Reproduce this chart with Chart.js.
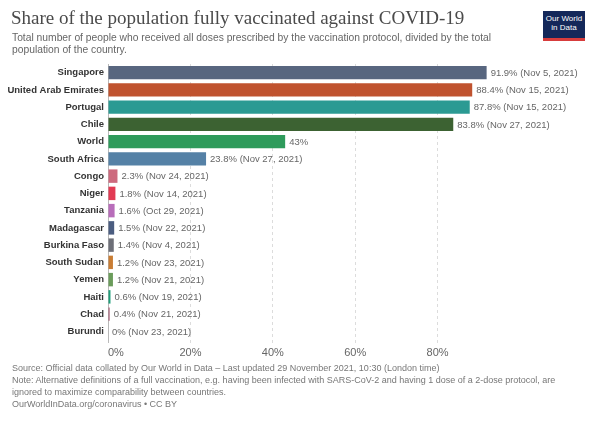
<!DOCTYPE html>
<html>
<head>
<meta charset="utf-8">
<script src="https://cdn.jsdelivr.net/npm/chart.js@4"></script>
<style>
  html, body { margin: 0; padding: 0; background: #fff; }
  #wrap { position: relative; width: 600px; height: 421px; overflow: hidden; }
  canvas { position: absolute; left: 0; top: 0; }
  .title { position: absolute; left: 11px; top: 7px; font-family: "Liberation Serif", "DejaVu Serif", serif; font-size: 19px; color: #4a4a4a; line-height: 22px; white-space: nowrap; }
  .sub { position: absolute; left: 12px; top: 32px; width: 520px; font-family: "Liberation Sans", Arial, sans-serif; font-size: 10.3px; color: #666; line-height: 12px; white-space: nowrap; }
  .foot { position: absolute; left: 12px; top: 362px; width: 580px; font-family: "Liberation Sans", Arial, sans-serif; font-size: 9px; color: #777; line-height: 12px; white-space: nowrap; }
  .logo { position: absolute; left: 543px; top: 11px; width: 42px; height: 24px; background: #14285a; border-bottom: 3px solid #d73c3c; color: #fff; font-family: "Liberation Sans", Arial, sans-serif; font-size: 8px; line-height: 9px; text-align: center; padding-top: 3px; box-sizing: content-box; }
</style>
</head>
<body>
<div id="wrap">
  <canvas id="c" width="600" height="421"></canvas>
  <div class="title">Share of the population fully vaccinated against COVID-19</div>
  <div class="sub">Total number of people who received all doses prescribed by the vaccination protocol, divided by the total<br>population of the country.</div>
  <div class="logo">Our World<br>in Data</div>
  <div class="foot">Source: Official data collated by Our World in Data – Last updated 29 November 2021, 10:30 (London time)<br>Note: Alternative definitions of a full vaccination, e.g. having been infected with SARS-CoV-2 and having 1 dose of a 2-dose protocol, are<br>ignored to maximize comparability between countries.<br>OurWorldInData.org/coronavirus • CC BY</div>
</div>
<script>
const countries = ["Singapore", "United Arab Emirates", "Portugal", "Chile", "World", "South Africa", "Congo", "Niger", "Tanzania", "Madagascar", "Burkina Faso", "South Sudan", "Yemen", "Haiti", "Chad", "Burundi"];
const shareVaccinated = [91.9, 88.4, 87.8, 83.8, 43, 23.8, 2.3, 1.8, 1.6, 1.5, 1.4, 1.2, 1.2, 0.6, 0.4, 0];
const dates = ["Nov 5, 2021", "Nov 15, 2021", "Nov 15, 2021", "Nov 27, 2021", "", "Nov 27, 2021", "Nov 24, 2021", "Nov 14, 2021", "Oct 29, 2021", "Nov 22, 2021", "Nov 4, 2021", "Nov 23, 2021", "Nov 21, 2021", "Nov 19, 2021", "Nov 21, 2021", "Nov 23, 2021"];
const barColors = ["#58667f", "#c0532f", "#2b9a93", "#3c6232", "#2e9b5b", "#5581a6", "#cd6a7e", "#e23a53", "#b86dba", "#4b5d80", "#6d6f78", "#c97d34", "#6b9c5b", "#1f9d79", "#a45b73", "#888888"];
const xTicks = [0, 20, 40, 60, 80];

const SANS = '"Liberation Sans", Arial, sans-serif';

const valueLabels = {
  id: 'valueLabels',
  afterDatasetsDraw(chart) {
    const ctx = chart.ctx;
    const meta = chart.getDatasetMeta(0);
    ctx.save();
    ctx.font = '9.5px ' + SANS;
    ctx.fillStyle = '#666';
    ctx.textBaseline = 'middle';
    ctx.textAlign = 'left';
    meta.data.forEach((el, i) => {
      const v = shareVaccinated[i];
      const txt = v + '%' + (dates[i] ? ' (' + dates[i] + ')' : '');
      ctx.fillText(txt, el.x + 4, el.y + 0.5);
    });
    ctx.restore();
  }
};

const xTickLabels = {
  id: 'xTickLabels',
  afterDraw(chart) {
    const ctx = chart.ctx;
    const sx = chart.scales.x;
    ctx.save();
    ctx.font = '11px ' + SANS;
    ctx.fillStyle = '#666';
    ctx.textBaseline = 'middle';
    xTicks.forEach(v => {
      const px = sx.getPixelForValue(v);
      ctx.textAlign = v === 0 ? 'left' : 'center';
      ctx.fillText(v + '%', px, chart.chartArea.bottom + 13);
    });
    ctx.restore();
  }
};

new Chart(document.getElementById('c'), {
  type: 'bar',
  data: {
    labels: countries,
    datasets: [{
      data: shareVaccinated,
      backgroundColor: barColors,
      borderWidth: 0,
      barPercentage: 0.78,
      categoryPercentage: 1
    }]
  },
  options: {
    indexAxis: 'y',
    responsive: false,
    animation: false,
    devicePixelRatio: 1,
    layout: { padding: { top: 64, right: 80, bottom: 51, left: 0 } },
    plugins: { legend: { display: false }, tooltip: { enabled: false }, title: { display: false } },
    scales: {
      x: {
        min: 0, max: 100,
        afterBuildTicks(scale) { scale.ticks = xTicks.map(v => ({ value: v })); },
        afterFit(scale) { scale.height = 30; },
        ticks: { display: false, stepSize: 20 },
        grid: {
          color: c => (c.tick && c.tick.value === 0) ? 'rgba(0,0,0,0)' : '#dcdcdc',
          tickColor: c => (c.tick && c.tick.value === 0) ? '#bbb' : '#dcdcdc',
          tickLength: 4,
          tickBorderDash: [3, 3],
          lineWidth: 1
        },
        border: { display: false, dash: [3, 3] }
      },
      y: {
        afterFit(scale) { scale.width = 108; },
        grid: { display: false, drawTicks: false },
        border: { display: true, color: '#b8b8b8', width: 1 },
        ticks: {
          padding: 4,
          color: '#333',
          font: { family: SANS, size: 9.5, weight: 'bold' },
          autoSkip: false
        }
      }
    }
  },
  plugins: [valueLabels, xTickLabels]
});
</script>
</body>
</html>
